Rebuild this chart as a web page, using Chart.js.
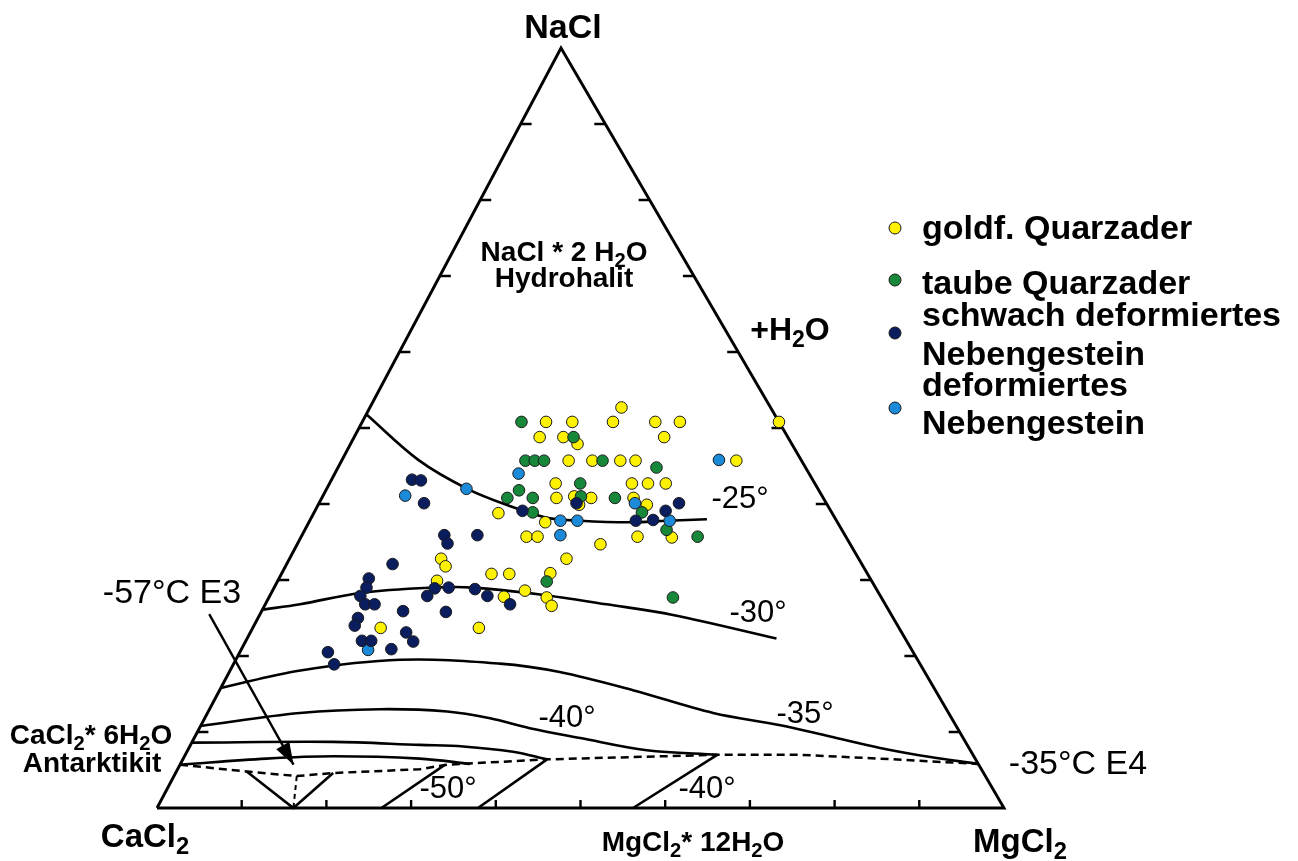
<!DOCTYPE html>
<html>
<head>
<meta charset="utf-8">
<title>NaCl – CaCl2 – MgCl2</title>
<script src="https://cdn.jsdelivr.net/npm/chart.js@4.4.1/dist/chart.umd.min.js"></script>
<style>
  html, body { margin: 0; padding: 0; background: #fff; }
  #wrap { position: relative; width: 1298px; height: 861px; overflow: hidden;
          font-family: "Liberation Sans", Arial, Helvetica, sans-serif; color: #000; }
  #c { position: absolute; left: 0; top: 0; }
  .lbl { position: absolute; transform: translate(-50%, -50%); line-height: 1; white-space: nowrap; }
  .lbl.left { transform: translate(0, -50%); }
  .b { font-weight: bold; }
  sub { font-size: 0.72em; vertical-align: -0.32em; line-height: 0; }
  .dot { position: absolute; width: 11px; height: 11px; border: 1px solid #1a1a1a;
         border-radius: 50%; transform: translate(-50%, -50%); }
</style>
</head>
<body>
<div id="wrap">
  <canvas id="c" width="1298" height="861"></canvas>

  <!-- corner labels -->
  <div class="lbl b" style="left:563px; top:26px; font-size:34px;">NaCl</div>
  <div class="lbl b" style="left:145px; top:835px; font-size:33px;">CaCl<sub>2</sub></div>
  <div class="lbl b" style="left:1020px; top:840px; font-size:33px;">MgCl<sub>2</sub></div>

  <!-- stability fields -->
  <div class="lbl b" style="left:564px; top:252px; font-size:28px;">NaCl * 2 H<sub>2</sub>O</div>
  <div class="lbl b" style="left:564px; top:278px; font-size:28px;">Hydrohalit</div>
  <div class="lbl b" style="left:91px; top:735px; font-size:28px;">CaCl<sub>2</sub>* 6H<sub>2</sub>O</div>
  <div class="lbl b" style="left:92px; top:763px; font-size:28px;">Antarktikit</div>
  <div class="lbl b" style="left:693px; top:842px; font-size:28px;">MgCl<sub>2</sub>* 12H<sub>2</sub>O</div>
  <div class="lbl b" style="left:790px; top:329px; font-size:32px;">+H<sub>2</sub>O</div>

  <!-- isotherms and eutectics -->
  <div class="lbl" style="left:740px; top:497px; font-size:31px;">-25°</div>
  <div class="lbl" style="left:758px; top:611px; font-size:31px;">-30°</div>
  <div class="lbl" style="left:805px; top:712px; font-size:31px;">-35°</div>
  <div class="lbl" style="left:567px; top:716px; font-size:31px;">-40°</div>
  <div class="lbl" style="left:448px; top:787px; font-size:31px;">-50°</div>
  <div class="lbl" style="left:707px; top:787px; font-size:31px;">-40°</div>
  <div class="lbl" style="left:172px; top:591px; font-size:34px;">-57°C E3</div>
  <div class="lbl" style="left:1078px; top:762px; font-size:34px;">-35°C E4</div>

  <!-- legend -->
  <div class="dot" style="left:895px; top:228px; background:#fff200;"></div>
  <div class="dot" style="left:895px; top:280px; background:#17873a;"></div>
  <div class="dot" style="left:895px; top:333px; background:#0a1d5e;"></div>
  <div class="dot" style="left:895px; top:408px; background:#1b8ad8;"></div>
  <div class="lbl left b" style="left:922px; top:227px; font-size:34px;">goldf. Quarzader</div>
  <div class="lbl left b" style="left:922px; top:282px; font-size:34px;">taube Quarzader</div>
  <div class="lbl left b" style="left:922px; top:314px; font-size:34px;">schwach deformiertes</div>
  <div class="lbl left b" style="left:922px; top:353px; font-size:34px;">Nebengestein</div>
  <div class="lbl left b" style="left:922px; top:384px; font-size:34px;">deformiertes</div>
  <div class="lbl left b" style="left:922px; top:422px; font-size:34px;">Nebengestein</div>
</div>

<script>
// Compositions as [NaCl %, MgCl2 %]; CaCl2 makes up the rest.
const goldfQuarzader = [
  [50.8, 21.7], [50.8, 24.8], [50.8, 29.6], [52.7, 29.7], [50.8, 34.6], [50.8, 37.5],
  [50.8, 49.2], [48.8, 21.9], [48.8, 24.7], [47.9, 26.8], [48.8, 36.6], [45.7, 26.8],
  [45.7, 29.6], [45.7, 32.9], [45.7, 34.7], [45.7, 46.6], [42.7, 26.7], [42.7, 35.7],
  [42.7, 37.6], [42.7, 39.7], [40.8, 27.7], [41.0, 29.7], [40.8, 31.8], [40.8, 36.8],
  [39.9, 30.8], [39.9, 38.8], [38.8, 21.8], [37.6, 27.9], [35.6, 43.8], [35.7, 26.6],
  [35.7, 27.9], [35.7, 39.7], [34.7, 35.8], [32.8, 32.7], [32.8, 17.9], [31.8, 18.9],
  [30.8, 24.8], [30.8, 26.9], [30.9, 31.7], [29.9, 18.8], [27.8, 27.7], [28.6, 29.8],
  [27.7, 32.8], [26.6, 33.9], [23.7, 15.1], [23.7, 26.7]
];
const taubeQuarzader = [
  [50.8, 18.8], [48.8, 25.9], [45.7, 21.7], [45.7, 22.8], [45.7, 23.9], [45.7, 30.8],
  [44.8, 37.6], [42.7, 29.6], [41.8, 22.8], [40.8, 21.9], [40.8, 24.9], [41.0, 30.5],
  [40.8, 34.6], [38.9, 38.7], [38.9, 25.8], [36.6, 42.7], [35.7, 46.8], [27.7, 47.7],
  [29.8, 31.8]
];
const schwachDeformiert = [
  [40.1, 30.4], [40.1, 42.5], [39.1, 41.4], [39.1, 24.5], [37.8, 38.5], [37.9, 40.5],
  [43.2, 9.5], [43.1, 10.6], [40.1, 12.4], [35.9, 16.8], [34.8, 17.7], [35.9, 20.7],
  [32.1, 12.5], [30.2, 10.6], [29.0, 10.9], [27.9, 10.7], [26.8, 11.8], [26.8, 12.9],
  [28.9, 19.0], [29.0, 20.6], [27.9, 18.6], [28.8, 23.8], [27.9, 25.7], [26.8, 28.9],
  [25.9, 16.7], [25.8, 21.8], [25.0, 11.8], [24.0, 11.9], [23.1, 18.4], [21.9, 19.8],
  [22.0, 13.7], [22.0, 14.8], [20.9, 17.7], [20.5, 10.4], [18.9, 11.9]
];
const deformiert = [
  [45.8, 44.5], [44.0, 21.7], [40.1, 37.3], [37.8, 29.6], [37.8, 31.6], [37.8, 42.5],
  [35.9, 30.5], [41.1, 9.7], [42.0, 16.5], [20.8, 15.0]
];

// Isotherms (°C) and phase boundaries, also as [NaCl %, MgCl2 %]
const iso25 = [[51.8, 0], [45.8, 9.0], [42.0, 16.6], [39.6, 23.1], [38.2, 27.8], [37.8, 31.9],
               [37.6, 37.9], [37.8, 42.2], [38.0, 46.8]];
const iso30 = [[26.1, 0], [26.8, 4.1], [28.3, 10.5], [29.0, 18.8], [29.0, 23.5], [28.1, 31.8],
               [26.8, 40.3], [25.4, 48.8], [22.3, 62.5]];
const iso35 = [[15.8, 0], [18.1, 8.3], [19.5, 19.4], [19.0, 31.4], [17.9, 39.0], [15.5, 48.8],
               [12.5, 59.7], [10.9, 68.4], [9.4, 75.0], [7.9, 81.6], [6.7, 88.1], [5.8, 94.2]];
const iso40 = [[10.8, 0], [12.5, 10.9], [13.0, 20.1], [12.7, 28.2], [11.8, 33.7], [10.5, 39.0],
               [9.2, 45.6], [7.6, 54.2], [7.0, 62.8]];
const iso45 = [[8.6, 0], [8.7, 16.6], [8.3, 27.1], [8.1, 32.3], [7.4, 38.5], [6.4, 43.0]];
const iso50 = [[5.7, 0], [6.5, 9.8], [6.8, 17.6], [6.5, 27.9], [5.8, 34.2]];
const cotectic = [[5.7, 0], [4.8, 8.3], [4.2, 14.5], [4.6, 18.6], [5.1, 28.6], [5.7, 31.5],
                  [6.4, 43.0], [7.0, 62.8], [7.0, 72.6], [6.5, 82.2], [5.8, 94.2]];
const fieldE3 = [[4.8, 8.3], [0, 16.1], [4.6, 18.6]];
const fieldE3Dotted = [[4.2, 14.5], [0, 16.1]];
const fieldLow1 = [[0, 26.5], [5.7, 31.3]];
const fieldLow2 = [[0, 37.9], [6.4, 43.0]];
const fieldMg = [[0, 56.2], [7.0, 62.8]];
const arrowE3 = [[25.5, -6.0], [5.7, 13.4]];
const triangle = [[0, 0], [0, 100], [100, 0], [0, 0]];
const tickValues = [10, 20, 30, 40, 50, 60, 70, 80, 90];

// Horizontal position of the NaCl corner along the CaCl2–MgCl2 base (0..1).
const APEX = 0.477;
function toXY(p) {
  const a = p[0], m = p[1];
  return { x: (m + a * APEX) / 100, y: a / 100 };
}

function lineSet(pts, extra) {
  return Object.assign({
    data: pts.map(toXY), showLine: true, pointRadius: 0, pointHoverRadius: 0,
    borderColor: '#000', borderWidth: 2.6, tension: 0.35, fill: false, clip: false, order: 10
  }, extra || {});
}
function pointSet(label, pts, color, order) {
  return {
    label, data: pts.map(toXY), showLine: false, backgroundColor: color,
    borderColor: '#1a1a1a', borderWidth: 1, pointRadius: 5.8, pointHoverRadius: 5.8,
    clip: false, order
  };
}

const ternaryDecor = {
  id: 'ternaryDecor',
  beforeDatasetsDraw(chart) {
    const { ctx, scales: { x, y } } = chart;
    const px = p => { const q = toXY(p); return [x.getPixelForValue(q.x), y.getPixelForValue(q.y)]; };
    ctx.save();
    ctx.strokeStyle = '#000';
    ctx.lineWidth = 2.4;
    ctx.beginPath();
    tickValues.forEach(v => {
      const [bx, by] = px([0, v]);           // CaCl2–MgCl2 base
      ctx.moveTo(bx, by); ctx.lineTo(bx, by - 8);
      const [lx, ly] = px([v, 0]);           // CaCl2–NaCl side
      ctx.moveTo(lx, ly); ctx.lineTo(lx + 11, ly);
      const [rx, ry] = px([v, 100 - v]);     // NaCl–MgCl2 side
      ctx.moveTo(rx, ry); ctx.lineTo(rx - 11, ry);
    });
    ctx.stroke();
    ctx.restore();
  },
  afterDatasetsDraw(chart) {
    const { ctx } = chart;
    const idx = chart.data.datasets.findIndex(d => d.id === 'arrow');
    const pts = chart.getDatasetMeta(idx).data;
    const a = pts[pts.length - 2], b = pts[pts.length - 1];
    const ang = Math.atan2(b.y - a.y, b.x - a.x);
    const len = 22, half = 7.5;
    ctx.save();
    ctx.fillStyle = '#000';
    ctx.translate(b.x, b.y);
    ctx.rotate(ang);
    ctx.beginPath();
    ctx.moveTo(0, 0);
    ctx.lineTo(-len, -half);
    ctx.lineTo(-len, half);
    ctx.closePath();
    ctx.fill();
    ctx.restore();
  }
};

new Chart(document.getElementById('c'), {
  type: 'scatter',
  data: {
    datasets: [
      pointSet('schwach deformiertes Nebengestein', schwachDeformiert, '#0a1d5e', 1),
      pointSet('deformiertes Nebengestein', deformiert, '#1b8ad8', 2),
      pointSet('taube Quarzader', taubeQuarzader, '#17873a', 3),
      pointSet('goldf. Quarzader', goldfQuarzader, '#fff200', 4),
      lineSet(triangle, { tension: 0, borderWidth: 2.9, borderJoinStyle: 'miter' }),
      lineSet(iso25), lineSet(iso30), lineSet(iso35), lineSet(iso40),
      lineSet(iso45), lineSet(iso50),
      lineSet(cotectic, { tension: 0, borderDash: [8, 5], borderWidth: 2.5 }),
      lineSet(fieldE3, { tension: 0 }),
      lineSet(fieldE3Dotted, { tension: 0, borderDash: [5, 4], borderWidth: 2 }),
      lineSet(fieldLow1, { tension: 0 }),
      lineSet(fieldLow2, { tension: 0 }),
      lineSet(fieldMg, { tension: 0 }),
      lineSet(arrowE3, { id: 'arrow', tension: 0, borderWidth: 2.4 })
    ]
  },
  options: {
    responsive: false,
    animation: false,
    devicePixelRatio: 1,
    events: [],
    layout: { padding: { left: 157, right: 294, top: 48, bottom: 53 } },
    scales: {
      x: { type: 'linear', min: 0, max: 1, display: false },
      y: { type: 'linear', min: 0, max: 1, display: false }
    },
    plugins: { legend: { display: false }, tooltip: { enabled: false } }
  },
  plugins: [ternaryDecor]
});
</script>
</body>
</html>
